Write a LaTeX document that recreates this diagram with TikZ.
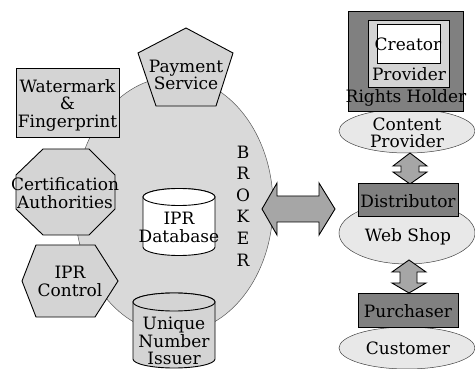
\documentclass[tikz,border=0pt]{standalone}
\usepackage{fontspec}
\setmainfont{DejaVu Serif}
\definecolor{brokerfill}{gray}{0.85}
\definecolor{partfill}{gray}{0.83}
\definecolor{rolefill}{gray}{0.5}
\definecolor{partyfill}{gray}{0.91}
\definecolor{arrowfill}{gray}{0.65}
\tikzset{
  lbl/.style={inner sep=0pt, align=center, font=\fontsize{17}{17.5}\selectfont},
  part/.style={draw=black, line width=0.9pt, fill=partfill},
  rolebox/.style={draw=black, line width=0.9pt, fill=rolefill},
  party/.style={draw=black!75, line width=0.5pt, fill=partyfill},
  fatarrow/.style={draw=black, line width=0.9pt, fill=arrowfill},
}
\begin{document}
\begin{tikzpicture}[x=1pt, y=-1pt, line join=miter]
    \useasboundingbox (0,0) rectangle (475,369);
    % broker and its parts
    \draw[draw=black!65, line width=0.5pt, fill=brokerfill] (174,205) ellipse[x radius=99, y radius=128];
    \node[lbl, font=\fontsize{17}{21.6}\selectfont] (broker) at (243,206) {B\\R\\O\\K\\E\\R};
    \draw[part] (16,68) rectangle (119,137);
    \node[lbl] (watermark) at (67.5,105) {Watermark\\\&\\Fingerprint};
    \draw[part] (186,28) -- (233,53) -- (216,106) -- (156,106) -- (138,53) -- cycle;
    \node[lbl] (payment) at (186,75) {Payment\\Service};
    \draw[part] (43,149) -- (89,149) -- (115,175) -- (115,209) -- (89,235) -- (43,235) -- (16,209) -- (16,175) -- cycle;
    \node[lbl] (certauth) at (65,193) {Certification\\Authorities};
    \draw[part] (36,245) -- (95,245) -- (118,281) -- (95,317) -- (36,317) -- (22,281) -- cycle;
    \node[lbl] (iprctl) at (70,281.5) {IPR\\Control};
    \draw[part, fill=white] (143,197) -- (143,247) arc[start angle=180, end angle=0, x radius=36, y radius=8.5]
        -- (215,197) arc[start angle=0, end angle=-180, x radius=36, y radius=8.5] -- cycle;
    \draw[part, fill=white] (179,197) ellipse[x radius=36, y radius=8.5];
    \node[lbl] (iprdb) at (179,227.5) {IPR\\Database};
    \draw[part] (133,302) -- (133,359) arc[start angle=180, end angle=0, x radius=41, y radius=9]
        -- (215,302) arc[start angle=0, end angle=-180, x radius=41, y radius=9] -- cycle;
    \draw[part] (174,302) ellipse[x radius=41, y radius=9];
    \node[lbl] (uniq) at (174,341) {Unique\\Number\\Issuer};
    % broker <-> distribution chain
    \draw[fatarrow] (262,209) -- (277,183) -- (277,196) -- (319,196) -- (319,183) -- (335,209)
        -- (319,235) -- (319,222) -- (277,222) -- (277,235) -- cycle;
    % parties
    \draw[party] (407,131) ellipse[x radius=68, y radius=22];
    \node[lbl] (content) at (407,133) {Content\\Provider};
    \draw[party] (407,233) ellipse[x radius=68, y radius=31];
    \node[lbl] (webshop) at (408,237) {Web Shop};
    \draw[party] (407,348) ellipse[x radius=68, y radius=21];
    \node[lbl] (customer) at (408,348) {Customer};
    \draw[fatarrow] (410,153) -- (427,166) -- (419,166) -- (419,172) -- (427,172) -- (410,184)
        -- (393,172) -- (401,172) -- (401,166) -- (393,166) -- cycle;
    \draw[fatarrow] (409,260) -- (426,272) -- (417,272) -- (417,283) -- (426,283) -- (409,293)
        -- (392,283) -- (400,283) -- (400,272) -- (392,272) -- cycle;
    % roles
    \draw[rolebox] (348,11) rectangle (463,111);
    \draw[part] (368,20) rectangle (449,87);
    \draw[part, fill=white] (377,24) rectangle (440,63);
    \node[lbl] (creator) at (408,44.5) {Creator};
    \node[lbl] (provider) at (409,74.5) {Provider};
    \node[lbl] (rights) at (406,98) {Rights Holder};
    \draw[rolebox] (358,183) rectangle (458,216);
    \node[lbl] (distrib) at (408,201) {Distributor};
    \draw[rolebox] (358,293) rectangle (458,327);
    \node[lbl] (purch) at (408,311) {Purchaser};
\end{tikzpicture}
\end{document}
